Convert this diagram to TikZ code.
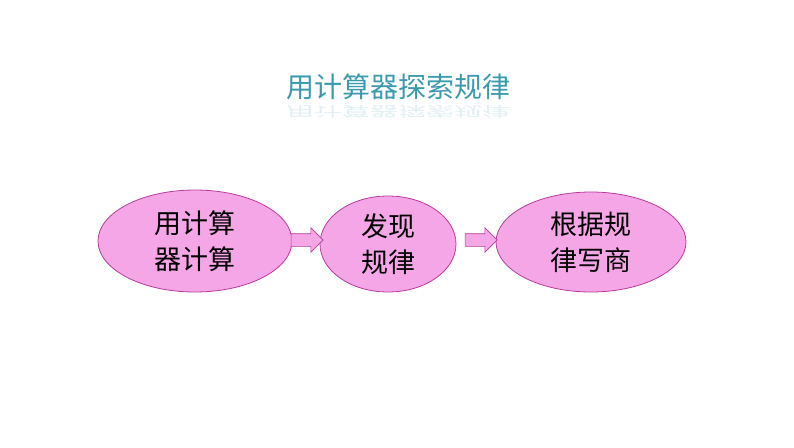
\documentclass[tikz,border=0pt]{standalone}
\usepackage{fontspec}
\newfontfamily\cjk{Noto Sans CJK SC}
\usetikzlibrary{shapes.geometric,shapes.arrows}
\definecolor{pinkfill}{HTML}{F5A6E6}
\definecolor{pinkedge}{HTML}{B83C9C}
\definecolor{teal}{HTML}{3C9AAE}
\tikzset{
 ell/.style={ellipse,draw=pinkedge,fill=pinkfill,line width=0.8pt,font=\cjk\fontsize{27}{36}\selectfont,align=center,inner sep=0pt},
 barrow/.style={single arrow,draw=pinkedge,fill=pinkfill,line width=0.6pt,minimum height=32pt,minimum width=24pt,single arrow head extend=6pt,single arrow head indent=0pt,inner xsep=0pt,inner ysep=6pt}
}
\begin{document}
\begin{tikzpicture}[x=1pt,y=1pt]
\useasboundingbox (0,0) rectangle (794,-447);
\node[font=\cjk\fontsize{28}{30}\selectfont,text=teal] (t) at (398,-87) {用计算器探索规律};
\node[font=\cjk\fontsize{28}{30}\selectfont,text=teal,opacity=0.15,yscale=-0.5] (tr) at (398,-112) {用计算器探索规律};
\node[ell,minimum width=194pt,minimum height=102pt] (a) at (195,-241) {用计算\\器计算};
\node[ell,minimum width=136pt,minimum height=96pt] (b) at (388,-244) {发现\\规律};
\node[ell,minimum width=190pt,minimum height=100pt] (c) at (591,-242) {根据规\\律写商};
\node[barrow] (ar1) at (304,-240) {};
\node[barrow] (ar2) at (478,-240) {};
\end{tikzpicture}
\end{document}
